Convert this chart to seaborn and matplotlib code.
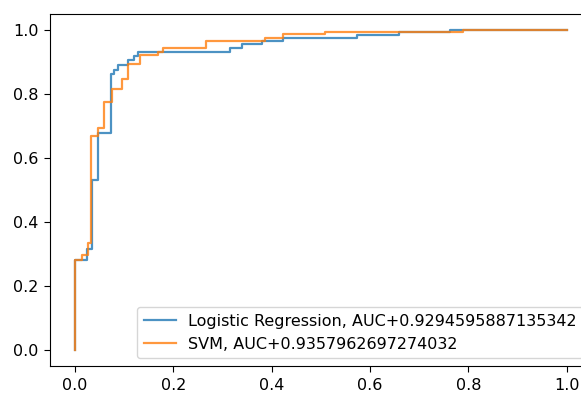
import matplotlib
matplotlib.use("Agg")
import matplotlib.pyplot as plt
import seaborn as sns
import pandas as pd

# ROC curve corner points
lr_fpr = [0, 0, 0.024, 0.024, 0.035, 0.035, 0.047, 0.047, 0.073, 0.073, 0.080, 0.080,
          0.087, 0.087, 0.108, 0.108, 0.119, 0.119, 0.129, 0.129, 0.315, 0.315,
          0.339, 0.339, 0.380, 0.380, 0.424, 0.424, 0.573, 0.573, 0.658, 0.658,
          0.763, 0.763, 1.0]
lr_tpr = [0, 0.280, 0.280, 0.317, 0.317, 0.530, 0.530, 0.677, 0.677, 0.864, 0.864, 0.875,
          0.875, 0.890, 0.890, 0.906, 0.906, 0.920, 0.920, 0.932, 0.932, 0.945,
          0.945, 0.955, 0.955, 0.966, 0.966, 0.976, 0.976, 0.984, 0.984, 0.993,
          0.993, 1.0, 1.0]

svm_fpr = [0, 0, 0.014, 0.014, 0.027, 0.027, 0.033, 0.033, 0.047, 0.047, 0.060, 0.060,
           0.075, 0.075, 0.096, 0.096, 0.108, 0.108, 0.132, 0.132, 0.169, 0.169,
           0.180, 0.180, 0.266, 0.266, 0.386, 0.386, 0.424, 0.424, 0.508, 0.508,
           0.790, 0.790, 1.0]
svm_tpr = [0, 0.280, 0.280, 0.297, 0.297, 0.335, 0.335, 0.670, 0.670, 0.693, 0.693, 0.776,
           0.776, 0.815, 0.815, 0.846, 0.846, 0.893, 0.893, 0.922, 0.922, 0.932,
           0.932, 0.943, 0.943, 0.966, 0.966, 0.976, 0.976, 0.988, 0.988, 0.994,
           0.994, 1.0, 1.0]

lr_label = "Logistic Regression, AUC+0.9294595887135342"
svm_label = "SVM, AUC+0.9357962697274032"

lr_df = pd.DataFrame({"fpr": lr_fpr, "tpr": lr_tpr})
svm_df = pd.DataFrame({"fpr": svm_fpr, "tpr": svm_tpr})

plt.rcParams["font.family"] = ["DejaVu Sans"]
plt.rcParams["font.size"] = 11.5
plt.rcParams["xtick.major.size"] = 4.5
plt.rcParams["ytick.major.size"] = 4.5
plt.rcParams["xtick.major.pad"] = 4
plt.rcParams["ytick.major.pad"] = 4

fig = plt.figure(figsize=(5.81, 3.94), dpi=100)
W, H = 581, 394
left, right, top, bottom = 50.4, 591.3, 14, 366
ax = fig.add_axes([left / W, (H - bottom) / H, (right - left) / W, (bottom - top) / H])

sns.lineplot(data=lr_df, x="fpr", y="tpr", ax=ax, sort=False, estimator=None,
             color="#1f77b4", alpha=0.8, linewidth=1.6, label=lr_label)
sns.lineplot(data=svm_df, x="fpr", y="tpr", ax=ax, sort=False, estimator=None,
             color="#ff7f0e", alpha=0.8, linewidth=1.6, label=svm_label)

ax.set_xlim(-0.05, 1.05)
ax.set_ylim(-0.05, 1.05)
ax.set_xticks([0, 0.2, 0.4, 0.6, 0.8, 1.0])
ax.set_yticks([0, 0.2, 0.4, 0.6, 0.8, 1.0])
ax.set_xlabel("")
ax.set_ylabel("")
ax.legend(loc="lower right")

fig.savefig("out.png", dpi=100)
